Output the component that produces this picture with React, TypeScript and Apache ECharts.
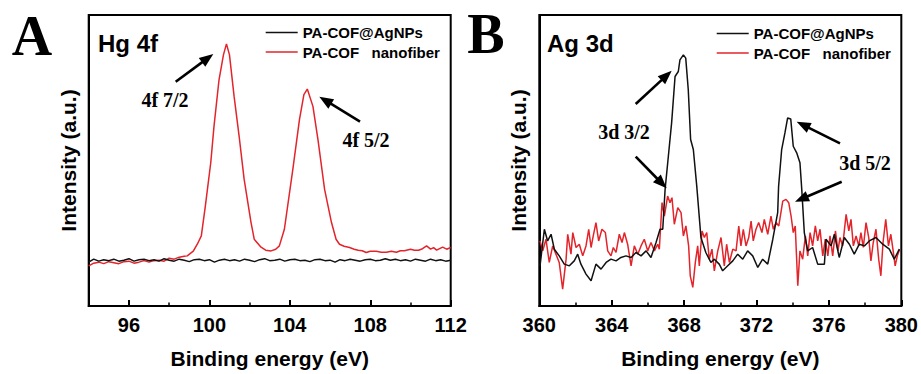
import React, { useEffect, useRef } from "react";
import * as echarts from "echarts";

// ---------- DATA (x = binding energy eV, y = intensity a.u.) ----------
const seriesNames = ["PA-COF@AgNPs", "PA-COF   nanofiber"];

const hgTicks = [96, 100, 104, 108, 112];
const hgMinorTicks = [98, 102, 106, 110];

const hgRed: [number, number][] = [
  [94.0, 40.3], [94.25, 43], [94.5, 44], [94.75, 42.5], [95.0, 44.5], [95.25, 43.5], [95.5, 42.5],
  [95.75, 44.5], [96.0, 45], [96.25, 43], [96.5, 44], [96.75, 45.5], [97.0, 44], [97.25, 45.5],
  [97.5, 46], [97.75, 45], [98.0, 48], [98.25, 47], [98.5, 49], [98.75, 50], [98.9, 50.3],
  [99.2, 55], [99.4, 62], [99.6, 70.3], [99.8, 100.3], [100.07, 144], [100.23, 180.3],
  [100.48, 227], [100.7, 252], [100.85, 263], [101.0, 252], [101.23, 210.3], [101.48, 170.3],
  [101.73, 127], [102.07, 84], [102.23, 67], [102.57, 59], [102.8, 56], [103.07, 55.3],
  [103.3, 57], [103.48, 60.3], [103.73, 77], [104.15, 137], [104.48, 187], [104.7, 212],
  [104.87, 217.7], [105.15, 200.3], [105.4, 167], [105.73, 117], [106.07, 84], [106.3, 67],
  [106.47, 62], [106.7, 60], [106.97, 58.7], [107.2, 57], [107.4, 56], [107.6, 55.5],
  [107.8, 53.7], [108.0, 55], [108.3, 55], [108.55, 54], [108.8, 54], [109.05, 55], [109.3, 54],
  [109.5, 55.5], [109.7, 55.5], [110.0, 57], [110.2, 56], [110.4, 56], [110.6, 57.5],
  [110.8, 60.3], [111.0, 57], [111.15, 58.5], [111.3, 56], [111.5, 58], [111.6, 59],
  [111.8, 57], [112.0, 58.7],
];

const hgBlack: [number, number][] = [
  [94.0, 44], [94.25, 47], [94.5, 45], [94.75, 46.5], [95.0, 45.5], [95.25, 47], [95.5, 45],
  [95.75, 46], [96.0, 47.5], [96.25, 45], [96.5, 46.5], [96.75, 47], [97.0, 45.5], [97.25, 46.5],
  [97.5, 45], [97.75, 47.5], [98.0, 46], [98.25, 45], [98.5, 47], [98.75, 46], [99.0, 44.5],
  [99.25, 46.5], [99.5, 47], [99.75, 45.5], [100.0, 46.5], [100.25, 44], [100.5, 46],
  [100.75, 47], [101.0, 45.5], [101.25, 46.5], [101.5, 45], [101.75, 47], [102.0, 46],
  [102.25, 44.5], [102.5, 46.5], [102.75, 47.5], [103.0, 45.5], [103.25, 46], [103.5, 47],
  [103.75, 45], [104.0, 46.5], [104.25, 47], [104.5, 45.5], [104.75, 46], [105.0, 44.5],
  [105.25, 46.5], [105.5, 47], [105.75, 45.5], [106.0, 46], [106.25, 44], [106.5, 46.5],
  [106.75, 45.5], [107.0, 47], [107.25, 46], [107.5, 45], [107.75, 46.5], [108.0, 47],
  [108.25, 45.5], [108.5, 46], [108.75, 47.5], [109.0, 46], [109.25, 47], [109.5, 45.5],
  [109.75, 46.5], [110.0, 45], [110.25, 47], [110.5, 46], [110.75, 45], [111.0, 47],
  [111.25, 45.5], [111.5, 46.5], [111.75, 45], [112.0, 46],
];

const agBlack: [number, number][] = [
  [360.04, 40.3], [360.28, 77], [360.46, 65.3], [360.65, 72], [360.83, 57], [361.1, 50.3],
  [361.38, 42], [361.66, 40.3], [361.93, 45.3], [362.12, 52], [362.3, 42], [362.58, 32],
  [362.86, 25.3], [363.13, 42], [363.41, 37], [363.69, 43.7], [363.96, 47], [364.24, 45.3],
  [364.51, 48.7], [364.79, 50.3], [365.07, 48.7], [365.34, 53.7], [365.62, 50.3], [365.9, 55.3],
  [366.17, 48.7], [366.45, 63.7], [366.67, 77], [366.82, 77], [366.95, 117], [367.13, 150.3],
  [367.31, 183.7], [367.5, 230.3], [367.68, 235.3], [367.77, 247], [367.96, 252], [368.09, 248.7],
  [368.23, 217], [368.36, 167], [368.51, 157], [368.7, 120], [368.93, 68.7], [369.2, 53.7],
  [369.48, 43.7], [369.67, 47], [369.94, 42], [370.13, 35.3], [370.41, 40.3], [370.69, 45.3],
  [370.96, 52], [371.24, 47], [371.51, 55.3], [371.79, 50.3], [372.07, 38.7], [372.34, 47],
  [372.62, 42], [372.9, 67], [373.17, 93.7], [373.22, 120], [373.39, 157], [373.57, 173.7],
  [373.72, 188.7], [373.89, 187.7], [374.03, 160.3], [374.22, 153.7], [374.4, 143.7],
  [374.5, 117], [374.64, 73.7], [374.83, 55.3], [375.1, 58.7], [375.38, 42], [375.75, 42],
  [375.84, 67], [376.12, 60.3], [376.3, 72], [376.57, 48.7], [376.85, 68.7], [377.13, 62],
  [377.4, 52], [377.68, 62], [377.96, 60.3], [378.23, 65.3], [378.6, 68.7], [378.97, 62],
  [379.34, 57], [379.61, 47], [379.89, 57],
];

const agRed: [number, number][] = [
  [360.04, 65.3], [360.19, 55.3], [360.37, 67], [360.55, 43.7], [360.74, 60.3], [360.92, 52],
  [361.1, 43.7], [361.29, 17], [361.48, 47], [361.57, 72], [361.75, 52], [361.85, 73.7],
  [362.03, 58.7], [362.21, 62], [362.4, 50.3], [362.58, 60.3], [362.73, 77], [362.86, 58.7],
  [362.98, 70.3], [363.13, 83.7], [363.28, 65.3], [363.46, 77], [363.65, 73.7], [363.78, 55.3],
  [363.96, 50.3], [364.09, 58.7], [364.24, 53.7], [364.42, 72], [364.57, 63.7], [364.7, 73.7],
  [364.88, 62], [365.07, 40.3], [365.25, 60.3], [365.44, 52], [365.62, 60.3], [365.8, 67],
  [365.99, 55.3], [366.17, 63.7], [366.36, 55.3], [366.54, 62], [366.63, 57], [366.78, 103.7],
  [366.91, 90.3], [367.09, 110.3], [367.22, 103.7], [367.33, 108.7], [367.46, 82],
  [367.65, 98.7], [367.83, 93.7], [367.96, 70.3], [368.1, 80.3], [368.25, 60.3], [368.34, 30.3],
  [368.48, 18.7], [368.62, 43.7], [368.75, 60.3], [368.84, 40.3], [368.99, 75.3], [369.12, 68.7],
  [369.25, 73.7], [369.39, 47], [369.54, 57], [369.67, 35.3], [369.86, 55.3], [370.04, 68.7],
  [370.22, 40.3], [370.35, 62], [370.5, 43.7], [370.69, 57], [370.87, 55.3], [371.02, 80.3],
  [371.14, 60.3], [371.27, 77], [371.42, 60.3], [371.57, 68.7], [371.7, 85.3], [371.82, 65.3],
  [371.97, 77], [372.12, 83.7], [372.3, 73.7], [372.43, 87], [372.62, 72], [372.8, 90.3],
  [372.93, 77], [373.08, 83.7], [373.23, 80.3], [373.45, 105.3], [373.63, 107], [373.78, 103.7],
  [373.91, 90.3], [374.03, 73.7], [374.14, 80.3], [374.28, 20.3], [374.4, 55.3], [374.55, 47],
  [374.7, 70.3], [374.83, 50.3], [374.96, 73.7], [375.1, 60.3], [375.25, 80.3], [375.38, 65.3],
  [375.51, 77], [375.66, 50.3], [375.8, 67], [375.94, 50.3], [376.06, 70.3], [376.21, 50.3],
  [376.36, 75.3], [376.5, 55.3], [376.61, 68.7], [376.76, 60.3], [376.95, 92], [377.1, 75.3],
  [377.22, 87], [377.35, 60.3], [377.5, 70.3], [377.65, 60.3], [377.77, 73.7], [377.9, 58.7],
  [378.05, 83.7], [378.2, 68.7], [378.32, 45.3], [378.45, 63.7], [378.6, 77], [378.75, 47],
  [378.87, 30.3], [378.99, 63.7], [379.14, 87], [379.29, 60.3], [379.42, 72], [379.55, 55.3],
  [379.66, 40.3], [379.78, 50.3], [379.91, 57],
];

// ---------- LAYOUT / STYLE ----------
const RED = "#e3242b";
const SANS = '"Liberation Sans", Arial, sans-serif';
const SERIF = '"Liberation Serif", "Times New Roman", serif';
const LEGEND_ICON = "path://M0,0H32V1.5H0Z";

type Pt = [number, number];
const arrowsPx: { from: Pt; to: Pt }[] = [
  { from: [175.7, 81.7], to: [213.3, 54] },
  { from: [360, 121.7], to: [319.3, 96.7] },
  { from: [635.7, 104], to: [671.7, 70.7] },
  { from: [635.7, 156.7], to: [666.7, 188.3] },
  { from: [840, 143.3], to: [796.7, 121.7] },
  { from: [841.7, 181.7], to: [795, 201.7] },
];

const notes: { text: string; x: number; y: number }[] = [
  { text: "4f 7/2", x: 165, y: 100 },
  { text: "4f 5/2", x: 366, y: 140 },
  { text: "3d 3/2", x: 624, y: 131.7 },
  { text: "3d 5/2", x: 865, y: 163.3 },
];

function arrowEls(from: Pt, to: Pt) {
  const dx = to[0] - from[0];
  const dy = to[1] - from[1];
  const len = Math.hypot(dx, dy);
  const ux = dx / len, uy = dy / len;
  const hl = 14, hw = 5.5;
  const bx = to[0] - ux * hl, by = to[1] - uy * hl;
  const px = -uy, py = ux;
  return [
    {
      type: "line",
      shape: { x1: from[0], y1: from[1], x2: bx + ux * 2, y2: by + uy * 2 },
      style: { stroke: "#000", lineWidth: 2.6 },
      z: 100,
    },
    {
      type: "polygon",
      shape: {
        points: [
          [to[0], to[1]],
          [bx + px * hw, by + py * hw],
          [bx - px * hw, by - py * hw],
        ],
      },
      style: { fill: "#000" },
      z: 100,
    },
  ];
}

function textEl(text: string, x: number, y: number, font: string, align = "center") {
  return {
    type: "text",
    x,
    y,
    z: 100,
    style: {
      text,
      font,
      fill: "#000",
      align,
      verticalAlign: "middle",
      textAlign: align,
      textVerticalAlign: "middle",
    },
  };
}

export default function App() {
  const ref = useRef<HTMLDivElement>(null);

  useEffect(() => {
    if (!ref.current) return;
    const chart = echarts.init(ref.current, null, { renderer: "svg" });

    const axisLabelStyle = {
      color: "#000",
      fontFamily: SANS,
      fontWeight: "bold",
      fontSize: 20,
      margin: 9,
    };
    const nameStyle = {
      color: "#000",
      fontFamily: SANS,
      fontWeight: "bold",
      fontSize: 21,
    };
    const gridBase = { top: 15, height: 292, show: true, borderColor: "#000", borderWidth: 2 };

    const legendBase = {
      data: seriesNames.map((n) => ({ name: n, icon: LEGEND_ICON })),
      orient: "vertical",
      itemWidth: 32,
      itemHeight: 14,
      itemGap: 4.5,
      padding: 0,
      textStyle: { color: "#000", fontFamily: SANS, fontWeight: "bold", fontSize: 15 },
    };

    const graphics: any[] = [];
    arrowsPx.forEach((a) => graphics.push(...arrowEls(a.from, a.to)));
    notes.forEach((n) => graphics.push(textEl(n.text, n.x, n.y, `bold 20px ${SERIF}`)));
    graphics.push(textEl("A", 32, 36, `bold 56px ${SERIF}`));
    graphics.push(textEl("B", 486, 34, `bold 56px ${SERIF}`));
    graphics.push(textEl("Hg 4f", 98, 43, `bold 24px ${SANS}`, "left"));
    graphics.push(textEl("Ag 3d", 547, 43, `bold 24px ${SANS}`, "left"));

    const yAxisBase = {
      type: "value",
      min: 0,
      max: 292,
      name: "Intensity (a.u.)",
      nameLocation: "middle",
      nameGap: 10,
      nameTextStyle: nameStyle,
      axisLine: { show: true, lineStyle: { color: "#000", width: 2 } },
      axisTick: { show: false },
      axisLabel: { show: false },
      splitLine: { show: false },
    };

    const option: any = {
      animation: false,
      backgroundColor: "#fff",
      grid: [
        { ...gridBase, left: 88.7, width: 362 },
        { ...gridBase, left: 539.3, width: 362.4 },
      ],
      legend: [
        { ...legendBase, left: 265.7, top: 25 },
        { ...legendBase, left: 716.7, top: 26 },
      ],
      xAxis: [
        {
          type: "value",
          gridIndex: 0,
          min: 94,
          max: 112,
          name: "Binding energy (eV)",
          nameLocation: "middle",
          nameGap: 42,
          nameTextStyle: nameStyle,
          axisLine: { show: true, onZero: false, lineStyle: { color: "#000", width: 2 } },
          axisTick: { show: true, inside: true, length: 6, customValues: hgTicks, lineStyle: { color: "#000", width: 2 } },
          axisLabel: { ...axisLabelStyle, customValues: hgTicks, showMaxLabel: true },
          splitLine: { show: false },
        },
        {
          type: "value",
          gridIndex: 0,
          min: 94,
          max: 112,
          position: "bottom",
          axisLine: { show: false },
          axisTick: { show: true, inside: true, length: 3.5, customValues: hgMinorTicks, lineStyle: { color: "#000", width: 1.5 } },
          axisLabel: { show: false },
          splitLine: { show: false },
        },
        {
          type: "value",
          gridIndex: 1,
          min: 360,
          max: 380,
          interval: 4,
          name: "Binding energy (eV)",
          nameLocation: "middle",
          nameGap: 42,
          nameTextStyle: nameStyle,
          axisLine: { show: true, onZero: false, lineStyle: { color: "#000", width: 2 } },
          axisTick: { show: true, inside: true, length: 6, lineStyle: { color: "#000", width: 2 } },
          minorTick: { show: true, splitNumber: 2, length: 3.5, lineStyle: { color: "#000", width: 1.5 } },
          axisLabel: { ...axisLabelStyle, showMaxLabel: true, showMinLabel: true },
          splitLine: { show: false },
          minorSplitLine: { show: false },
        },
      ],
      yAxis: [
        { ...yAxisBase, gridIndex: 0 },
        { ...yAxisBase, gridIndex: 1 },
      ],
      series: [
        {
          name: seriesNames[1],
          type: "line",
          xAxisIndex: 0,
          yAxisIndex: 0,
          data: hgRed,
          symbol: "none",
          lineStyle: { color: RED, width: 1.5 },
          itemStyle: { color: RED },
        },
        {
          name: seriesNames[0],
          type: "line",
          xAxisIndex: 0,
          yAxisIndex: 0,
          data: hgBlack,
          symbol: "none",
          lineStyle: { color: "#111", width: 1.5 },
          itemStyle: { color: "#111" },
        },
        {
          name: seriesNames[1],
          type: "line",
          xAxisIndex: 2,
          yAxisIndex: 1,
          data: agRed,
          symbol: "none",
          lineStyle: { color: RED, width: 1.5 },
          itemStyle: { color: RED },
        },
        {
          name: seriesNames[0],
          type: "line",
          xAxisIndex: 2,
          yAxisIndex: 1,
          data: agBlack,
          symbol: "none",
          lineStyle: { color: "#111", width: 1.5 },
          itemStyle: { color: "#111" },
        },
      ],
      graphic: { elements: graphics },
    };

    chart.setOption(option);
    return () => chart.dispose();
  }, []);

  return (
    <div
      ref={ref}
      style={{ position: "fixed", left: 0, top: 0, width: 921, height: 374, background: "#fff" }}
    />
  );
}
